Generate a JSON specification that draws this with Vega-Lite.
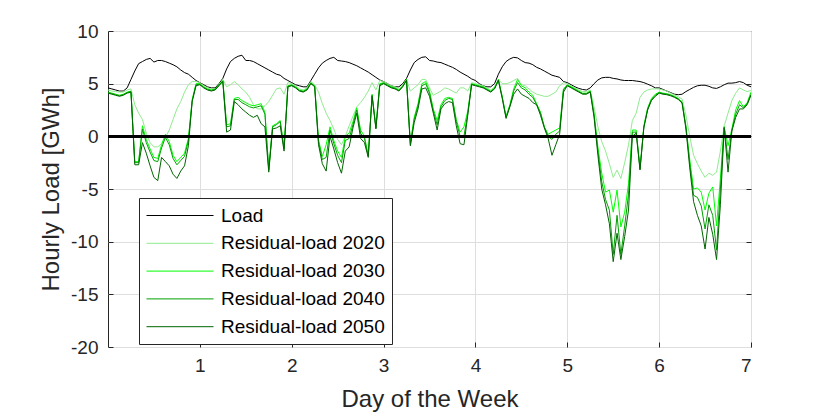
{
  "$schema": "https://vega.github.io/schema/vega-lite/v6.json",
  "width": 643,
  "height": 316,
  "autosize": "none",
  "padding": {"left": 108, "top": 31, "right": 79, "bottom": 68},
  "background": "white",
  "config": {
    "view": {"stroke": "#262626", "strokeWidth": 1},
    "font": "Liberation Sans"
  },
  "data": {"values": [
    {"h":0,"load":4.6,"r20":4.4,"r30":4.2,"r40":4.15,"r50":4.1},
    {"h":1,"load":4.5,"r20":4.3,"r30":4.1,"r40":4.05,"r50":4.0},
    {"h":2,"load":4.4,"r20":4.25,"r30":4.0,"r40":3.95,"r50":3.9},
    {"h":3,"load":4.3,"r20":4.2,"r30":3.9,"r40":3.85,"r50":3.8},
    {"h":4,"load":4.3,"r20":4.2,"r30":4.0,"r40":3.95,"r50":3.9},
    {"h":5,"load":4.6,"r20":4.4,"r30":4.2,"r40":4.15,"r50":4.1},
    {"h":6,"load":5.4,"r20":4.5,"r30":4.3,"r40":4.25,"r50":4.2},
    {"h":7,"load":6.2,"r20":3.0,"r30":-2.4,"r40":-2.5,"r50":-2.7},
    {"h":8,"load":6.9,"r20":2.2,"r30":-2.4,"r40":-2.5,"r50":-2.7},
    {"h":9,"load":7.1,"r20":1.6,"r30":1.0,"r40":0.7,"r50":-0.6},
    {"h":10,"load":7.3,"r20":0.3,"r30":-0.3,"r40":-0.6,"r50":-1.6},
    {"h":11,"load":7.4,"r20":-0.6,"r30":-1.2,"r40":-1.5,"r50":-2.8},
    {"h":12,"load":7.05,"r20":-1.0,"r30":-2.0,"r40":-2.3,"r50":-3.9},
    {"h":13,"load":7.2,"r20":-1.0,"r30":-2.1,"r40":-2.4,"r50":-4.2},
    {"h":14,"load":7.2,"r20":-0.7,"r30":-0.8,"r40":-1.1,"r50":-2.0},
    {"h":15,"load":7.1,"r20":-0.1,"r30":0.2,"r40":-0.1,"r50":-2.4},
    {"h":16,"load":6.95,"r20":0.6,"r30":-0.5,"r40":-0.8,"r50":-2.8},
    {"h":17,"load":6.8,"r20":1.6,"r30":-1.8,"r40":-2.1,"r50":-3.6},
    {"h":18,"load":6.6,"r20":2.6,"r30":-2.4,"r40":-2.7,"r50":-4.0},
    {"h":19,"load":6.3,"r20":3.3,"r30":-2.0,"r40":-2.3,"r50":-3.3},
    {"h":20,"load":6.05,"r20":4.2,"r30":-1.6,"r40":-1.9,"r50":-2.8},
    {"h":21,"load":5.9,"r20":4.9,"r30":-0.2,"r40":-0.4,"r50":-0.9},
    {"h":22,"load":5.6,"r20":5.2,"r30":3.5,"r40":3.4,"r50":3.3},
    {"h":23,"load":5.3,"r20":5.2,"r30":5.0,"r40":4.9,"r50":4.8},
    {"h":24,"load":5.1,"r20":5.1,"r30":5.0,"r40":4.95,"r50":4.9},
    {"h":25,"load":4.9,"r20":4.8,"r30":4.7,"r40":4.65,"r50":4.6},
    {"h":26,"load":4.7,"r20":4.6,"r30":4.5,"r40":4.45,"r50":4.4},
    {"h":27,"load":4.6,"r20":4.5,"r30":4.4,"r40":4.35,"r50":4.3},
    {"h":28,"load":4.6,"r20":4.5,"r30":4.5,"r40":4.45,"r50":4.4},
    {"h":29,"load":5.0,"r20":4.9,"r30":4.9,"r40":4.85,"r50":4.8},
    {"h":30,"load":5.5,"r20":5.4,"r30":5.3,"r40":5.25,"r50":5.2},
    {"h":31,"load":6.4,"r20":4.7,"r30":1.1,"r40":0.9,"r50":0.4},
    {"h":32,"load":7.1,"r20":4.9,"r30":1.2,"r40":1.0,"r50":0.6},
    {"h":33,"load":7.4,"r20":5.2,"r30":3.6,"r40":3.5,"r50":3.3},
    {"h":34,"load":7.6,"r20":4.9,"r30":3.7,"r40":3.5,"r50":3.0},
    {"h":35,"load":7.7,"r20":4.5,"r30":3.4,"r40":3.2,"r50":2.6},
    {"h":36,"load":7.2,"r20":4.2,"r30":3.2,"r40":3.0,"r50":2.3},
    {"h":37,"load":7.2,"r20":3.7,"r30":3.0,"r40":2.8,"r50":2.0},
    {"h":38,"load":7.1,"r20":3.0,"r30":2.9,"r40":2.7,"r50":1.8},
    {"h":39,"load":6.9,"r20":2.6,"r30":3.0,"r40":2.8,"r50":2.0},
    {"h":40,"load":6.7,"r20":2.6,"r30":3.1,"r40":2.9,"r50":1.2},
    {"h":41,"load":6.5,"r20":2.9,"r30":2.3,"r40":2.1,"r50":0.9},
    {"h":42,"load":6.3,"r20":3.3,"r30":-3.1,"r40":-3.2,"r50":-3.4},
    {"h":43,"load":6.1,"r20":3.9,"r30":1.0,"r40":0.9,"r50":0.7},
    {"h":44,"load":5.9,"r20":4.5,"r30":1.2,"r40":1.1,"r50":0.8},
    {"h":45,"load":5.8,"r20":4.6,"r30":1.5,"r40":1.4,"r50":1.0},
    {"h":46,"load":5.5,"r20":4.0,"r30":-1.1,"r40":-1.2,"r50":-1.4},
    {"h":47,"load":5.3,"r20":5.1,"r30":4.8,"r40":4.75,"r50":4.7},
    {"h":48,"load":5.1,"r20":5.0,"r30":4.9,"r40":4.85,"r50":4.8},
    {"h":49,"load":4.9,"r20":4.8,"r30":4.7,"r40":4.65,"r50":4.6},
    {"h":50,"load":4.8,"r20":4.5,"r30":4.4,"r40":4.35,"r50":4.3},
    {"h":51,"load":4.7,"r20":4.4,"r30":4.3,"r40":4.25,"r50":4.2},
    {"h":52,"load":4.7,"r20":4.6,"r30":4.5,"r40":4.45,"r50":4.4},
    {"h":53,"load":5.3,"r20":5.2,"r30":5.1,"r40":5.05,"r50":5.0},
    {"h":54,"load":5.9,"r20":4.9,"r30":4.8,"r40":4.75,"r50":4.7},
    {"h":55,"load":6.5,"r20":4.2,"r30":-0.3,"r40":-0.5,"r50":-0.8},
    {"h":56,"load":6.95,"r20":3.1,"r30":-1.9,"r40":-2.2,"r50":-2.6},
    {"h":57,"load":7.2,"r20":2.2,"r30":-0.8,"r40":-2.0,"r50":-3.3},
    {"h":58,"load":7.4,"r20":1.5,"r30":0.9,"r40":0.6,"r50":0.0},
    {"h":59,"load":7.5,"r20":0.7,"r30":-0.4,"r40":-0.7,"r50":-1.2},
    {"h":60,"load":7.2,"r20":-0.3,"r30":-1.4,"r40":-1.8,"r50":-2.5},
    {"h":61,"load":7.15,"r20":-0.8,"r30":-2.0,"r40":-2.5,"r50":-3.5},
    {"h":62,"load":7.1,"r20":0.0,"r30":0.0,"r40":-0.4,"r50":-1.4},
    {"h":63,"load":7.0,"r20":1.0,"r30":0.3,"r40":-0.2,"r50":-1.0},
    {"h":64,"load":6.85,"r20":1.9,"r30":1.4,"r40":1.1,"r50":0.8},
    {"h":65,"load":6.7,"r20":2.8,"r30":2.7,"r40":2.5,"r50":2.2},
    {"h":66,"load":6.5,"r20":3.2,"r30":0.6,"r40":0.3,"r50":-0.2},
    {"h":67,"load":6.3,"r20":3.7,"r30":0.0,"r40":-0.2,"r50":-0.6},
    {"h":68,"load":6.1,"r20":4.3,"r30":-1.8,"r40":-1.9,"r50":-2.0},
    {"h":69,"load":5.85,"r20":5.1,"r30":4.0,"r40":3.9,"r50":3.8},
    {"h":70,"load":5.6,"r20":4.4,"r30":0.9,"r40":0.8,"r50":0.7},
    {"h":71,"load":5.35,"r20":5.3,"r30":5.0,"r40":4.9,"r50":4.8},
    {"h":72,"load":5.2,"r20":5.2,"r30":5.1,"r40":5.05,"r50":5.0},
    {"h":73,"load":5.0,"r20":5.0,"r30":4.9,"r40":4.85,"r50":4.8},
    {"h":74,"load":4.8,"r20":4.8,"r30":4.7,"r40":4.65,"r50":4.6},
    {"h":75,"load":4.7,"r20":4.7,"r30":4.6,"r40":4.55,"r50":4.5},
    {"h":76,"load":4.7,"r20":4.5,"r30":4.4,"r40":4.35,"r50":4.3},
    {"h":77,"load":5.0,"r20":4.9,"r30":4.8,"r40":4.75,"r50":4.7},
    {"h":78,"load":5.5,"r20":5.4,"r30":5.4,"r40":5.35,"r50":5.3},
    {"h":79,"load":6.3,"r20":4.3,"r30":-0.6,"r40":-0.8,"r50":-0.9},
    {"h":80,"load":7.0,"r20":4.6,"r30":1.8,"r40":1.6,"r50":1.3},
    {"h":81,"load":7.3,"r20":4.9,"r30":3.1,"r40":2.9,"r50":2.6},
    {"h":82,"load":7.5,"r20":5.4,"r30":5.0,"r40":4.8,"r50":4.5},
    {"h":83,"load":7.55,"r20":5.4,"r30":5.2,"r40":5.0,"r50":4.6},
    {"h":84,"load":7.2,"r20":4.6,"r30":4.3,"r40":4.1,"r50":3.8},
    {"h":85,"load":7.15,"r20":3.9,"r30":2.6,"r40":2.4,"r50":2.2},
    {"h":86,"load":7.05,"r20":4.1,"r30":1.5,"r40":1.1,"r50":0.6},
    {"h":87,"load":7.0,"r20":4.3,"r30":3.0,"r40":2.8,"r50":2.6},
    {"h":88,"load":6.85,"r20":4.6,"r30":3.6,"r40":3.4,"r50":3.1},
    {"h":89,"load":6.7,"r20":4.5,"r30":3.7,"r40":3.6,"r50":3.3},
    {"h":90,"load":6.55,"r20":4.3,"r30":3.6,"r40":3.5,"r50":3.2},
    {"h":91,"load":6.35,"r20":4.1,"r30":1.6,"r40":1.4,"r50":1.0},
    {"h":92,"load":6.1,"r20":4.6,"r30":0.4,"r40":0.0,"r50":-0.7},
    {"h":93,"load":5.9,"r20":4.6,"r30":0.9,"r40":0.0,"r50":-0.8},
    {"h":94,"load":5.7,"r20":4.3,"r30":2.4,"r40":2.2,"r50":2.0},
    {"h":95,"load":5.45,"r20":5.1,"r30":5.0,"r40":4.95,"r50":4.9},
    {"h":96,"load":5.3,"r20":5.0,"r30":4.9,"r40":4.85,"r50":4.8},
    {"h":97,"load":5.0,"r20":4.9,"r30":4.8,"r40":4.75,"r50":4.7},
    {"h":98,"load":4.8,"r20":4.8,"r30":4.7,"r40":4.65,"r50":4.6},
    {"h":99,"load":4.7,"r20":4.6,"r30":4.5,"r40":4.45,"r50":4.4},
    {"h":100,"load":4.7,"r20":4.4,"r30":4.3,"r40":4.25,"r50":4.2},
    {"h":101,"load":5.0,"r20":4.7,"r30":4.6,"r40":4.55,"r50":4.5},
    {"h":102,"load":5.9,"r20":5.4,"r30":5.4,"r40":5.35,"r50":5.3},
    {"h":103,"load":6.6,"r20":5.0,"r30":3.8,"r40":3.7,"r50":3.6},
    {"h":104,"load":7.1,"r20":5.0,"r30":1.9,"r40":1.8,"r50":1.7},
    {"h":105,"load":7.35,"r20":5.1,"r30":3.0,"r40":2.9,"r50":2.8},
    {"h":106,"load":7.5,"r20":5.3,"r30":4.5,"r40":4.3,"r50":4.0},
    {"h":107,"load":7.45,"r20":5.5,"r30":5.4,"r40":5.1,"r50":4.5},
    {"h":108,"load":7.2,"r20":4.9,"r30":4.8,"r40":4.6,"r50":4.0},
    {"h":109,"load":7.0,"r20":4.8,"r30":4.6,"r40":4.4,"r50":3.8},
    {"h":110,"load":6.95,"r20":4.5,"r30":4.2,"r40":4.0,"r50":3.6},
    {"h":111,"load":6.8,"r20":4.2,"r30":3.9,"r40":3.7,"r50":3.2},
    {"h":112,"load":6.55,"r20":4.0,"r30":3.1,"r40":3.0,"r50":3.0},
    {"h":113,"load":6.4,"r20":3.9,"r30":2.3,"r40":2.2,"r50":2.0},
    {"h":114,"load":6.2,"r20":3.8,"r30":0.9,"r40":0.9,"r50":0.8},
    {"h":115,"load":6.0,"r20":3.8,"r30":0.2,"r40":0.0,"r50":-0.2},
    {"h":116,"load":5.8,"r20":4.0,"r30":0.4,"r40":-0.3,"r50":-1.8},
    {"h":117,"load":5.7,"r20":4.2,"r30":0.6,"r40":0.2,"r50":-0.8},
    {"h":118,"load":5.6,"r20":4.8,"r30":0.8,"r40":0.5,"r50":0.2},
    {"h":119,"load":5.2,"r20":5.1,"r30":4.5,"r40":4.4,"r50":4.2},
    {"h":120,"load":5.1,"r20":5.0,"r30":4.9,"r40":4.85,"r50":4.8},
    {"h":121,"load":4.9,"r20":4.8,"r30":4.7,"r40":4.65,"r50":4.6},
    {"h":122,"load":4.7,"r20":4.6,"r30":4.5,"r40":4.45,"r50":4.4},
    {"h":123,"load":4.55,"r20":4.4,"r30":4.3,"r40":4.25,"r50":4.2},
    {"h":124,"load":4.45,"r20":4.25,"r30":4.1,"r40":4.05,"r50":4.0},
    {"h":125,"load":4.4,"r20":4.25,"r30":4.1,"r40":4.05,"r50":4.0},
    {"h":126,"load":4.6,"r20":4.4,"r30":4.3,"r40":4.25,"r50":4.2},
    {"h":127,"load":5.0,"r20":2.8,"r30":2.2,"r40":2.0,"r50":1.8},
    {"h":128,"load":5.35,"r20":0.9,"r30":-1.0,"r40":-1.4,"r50":-1.8},
    {"h":129,"load":5.55,"r20":-0.5,"r30":-3.5,"r40":-4.3,"r50":-5.0},
    {"h":130,"load":5.6,"r20":-1.4,"r30":-5.3,"r40":-6.0,"r50":-6.5},
    {"h":131,"load":5.6,"r20":-2.6,"r30":-5.1,"r40":-7.0,"r50":-8.3},
    {"h":132,"load":5.5,"r20":-3.9,"r30":-7.2,"r40":-11.2,"r50":-11.9},
    {"h":133,"load":5.45,"r20":-3.2,"r30":-5.1,"r40":-7.5,"r50":-9.2},
    {"h":134,"load":5.35,"r20":-4.0,"r30":-8.6,"r40":-11.2,"r50":-11.7},
    {"h":135,"load":5.3,"r20":-2.5,"r30":-7.2,"r40":-8.5,"r50":-9.5},
    {"h":136,"load":5.3,"r20":-0.8,"r30":-4.5,"r40":-5.5,"r50":-7.0},
    {"h":137,"load":5.3,"r20":1.5,"r30":0.6,"r40":0.4,"r50":0.0},
    {"h":138,"load":5.25,"r20":2.2,"r30":0.6,"r40":0.4,"r50":0.3},
    {"h":139,"load":5.2,"r20":3.7,"r30":-3.0,"r40":-3.1,"r50":-3.2},
    {"h":140,"load":5.1,"r20":4.2,"r30":1.0,"r40":0.9,"r50":0.8},
    {"h":141,"load":4.95,"r20":4.4,"r30":2.7,"r40":2.6,"r50":2.5},
    {"h":142,"load":4.8,"r20":4.5,"r30":3.6,"r40":3.5,"r50":3.4},
    {"h":143,"load":4.6,"r20":4.5,"r30":4.0,"r40":3.9,"r50":3.8},
    {"h":144,"load":4.6,"r20":4.5,"r30":4.2,"r40":4.15,"r50":4.1},
    {"h":145,"load":4.45,"r20":4.4,"r30":4.1,"r40":4.05,"r50":4.0},
    {"h":146,"load":4.3,"r20":4.3,"r30":4.05,"r40":4.0,"r50":3.95},
    {"h":147,"load":4.15,"r20":4.1,"r30":3.95,"r40":3.9,"r50":3.85},
    {"h":148,"load":4.0,"r20":3.95,"r30":3.8,"r40":3.75,"r50":3.7},
    {"h":149,"load":3.95,"r20":3.75,"r30":3.6,"r40":3.55,"r50":3.5},
    {"h":150,"load":4.0,"r20":3.55,"r30":3.25,"r40":3.2,"r50":3.15},
    {"h":151,"load":4.25,"r20":2.0,"r30":1.0,"r40":0.9,"r50":0.7},
    {"h":152,"load":4.45,"r20":0.0,"r30":-2.2,"r40":-2.6,"r50":-3.0},
    {"h":153,"load":4.65,"r20":-1.8,"r30":-5.0,"r40":-5.6,"r50":-6.2},
    {"h":154,"load":4.8,"r20":-2.6,"r30":-4.9,"r40":-5.8,"r50":-7.5},
    {"h":155,"load":4.85,"r20":-3.3,"r30":-5.3,"r40":-6.6,"r50":-8.5},
    {"h":156,"load":4.85,"r20":-3.9,"r30":-7.0,"r40":-8.8,"r50":-10.7},
    {"h":157,"load":4.75,"r20":-3.5,"r30":-5.4,"r40":-6.5,"r50":-7.7},
    {"h":158,"load":4.6,"r20":-3.7,"r30":-4.8,"r40":-7.5,"r50":-9.3},
    {"h":159,"load":4.55,"r20":-3.4,"r30":-8.5,"r40":-10.8,"r50":-11.7},
    {"h":160,"load":4.7,"r20":-1.4,"r30":-4.0,"r40":-5.0,"r50":-6.5},
    {"h":161,"load":4.9,"r20":1.0,"r30":0.9,"r40":0.9,"r50":0.8},
    {"h":162,"load":5.05,"r20":2.2,"r30":-0.9,"r40":-2.2,"r50":-3.4},
    {"h":163,"load":5.05,"r20":3.4,"r30":0.7,"r40":0.6,"r50":0.5},
    {"h":164,"load":5.1,"r20":4.1,"r30":2.5,"r40":2.1,"r50":1.8},
    {"h":165,"load":5.2,"r20":4.6,"r30":3.4,"r40":3.0,"r50":2.6},
    {"h":166,"load":5.1,"r20":4.4,"r30":2.8,"r40":2.7,"r50":2.6},
    {"h":167,"load":4.85,"r20":4.25,"r30":3.2,"r40":3.1,"r50":3.0},
    {"h":168,"load":4.7,"r20":4.35,"r30":4.2,"r40":4.0,"r50":3.9}
  ]},
  "resolve": {"scale": {"x": "independent", "y": "independent"}},
  "layer": [
    {
      "transform": [{"fold": ["load", "r20", "r30", "r40", "r50"], "as": ["series", "value"]}],
      "mark": {"type": "line", "strokeWidth": 1, "clip": true},
      "encoding": {
        "x": {
          "field": "h",
          "type": "quantitative",
          "scale": {"domain": [0, 168], "nice": false},
          "axis": {
            "values": [24, 48, 72, 96, 120, 144, 168],
            "labelExpr": "datum.value / 24",
            "grid": true,
            "gridColor": "#dedede",
            "domain": false,
            "tickSize": -5,
            "tickColor": "#262626",
            "labelPadding": 14,
            "labelFontSize": 19,
            "labelColor": "#262626",
            "title": "Day of the Week",
            "titleFontSize": 24,
            "titleFontWeight": "normal",
            "titleColor": "#262626",
            "titlePadding": 12
          }
        },
        "y": {
          "field": "value",
          "type": "quantitative",
          "scale": {"domain": [-20, 10], "nice": false},
          "axis": {
            "values": [-20, -15, -10, -5, 0, 5, 10],
            "labelExpr": "'' + datum.value",
            "grid": true,
            "gridColor": "#dedede",
            "domain": false,
            "tickSize": -5,
            "tickColor": "#262626",
            "labelPadding": 15,
            "labelFontSize": 19,
            "labelColor": "#262626",
            "title": "Hourly Load [GWh]",
            "titleFontSize": 24,
            "titleFontWeight": "normal",
            "titleColor": "#262626",
            "titlePadding": 7
          }
        },
        "color": {
          "field": "series",
          "type": "nominal",
          "scale": {
            "domain": ["load", "r20", "r30", "r40", "r50"],
            "range": ["#000000", "#8fec8f", "#00ff00", "#00a000", "#006400"]
          },
          "legend": {
            "orient": "none",
            "legendX": 31,
            "legendY": 167,
            "title": null,
            "symbolType": "M-1,0H5.7",
            "symbolSize": 400,
            "symbolStrokeWidth": 1,
            "labelFontSize": 19,
            "labelLimit": 400,
            "labelOffset": 54,
            "labelColor": "#000000",
            "rowPadding": 6.8,
            "padding": 7,
            "strokeColor": "#262626",
            "fillColor": "white",
            "labelExpr": "datum.label == 'load' ? 'Load' : datum.label == 'r20' ? 'Residual-load 2020' : datum.label == 'r30' ? 'Residual-load 2030' : datum.label == 'r40' ? 'Residual-load 2040' : 'Residual-load 2050'"
          }
        }
      }
    },
    {
      "mark": {"type": "rule", "color": "#000000", "strokeWidth": 2},
      "encoding": {
        "y": {"datum": 0, "scale": {"domain": [-20, 10], "nice": false}, "axis": null}
      }
    },
    {
      "data": {"values": [{"h": 0, "value": 0}]},
      "mark": {"type": "point", "opacity": 0},
      "encoding": {
        "x": {
          "field": "h",
          "type": "quantitative",
          "scale": {"domain": [0, 168], "nice": false},
          "axis": {
            "orient": "top",
            "values": [24, 48, 72, 96, 120, 144],
            "labels": false,
            "grid": false,
            "domain": false,
            "tickSize": -5,
            "tickColor": "#262626",
            "title": null
          }
        },
        "y": {
          "field": "value",
          "type": "quantitative",
          "scale": {"domain": [-20, 10], "nice": false},
          "axis": {
            "orient": "right",
            "values": [-15, -10, -5, 0, 5],
            "labels": false,
            "grid": false,
            "domain": false,
            "tickSize": -5,
            "tickColor": "#262626",
            "title": null
          }
        }
      }
    }
  ]
}
